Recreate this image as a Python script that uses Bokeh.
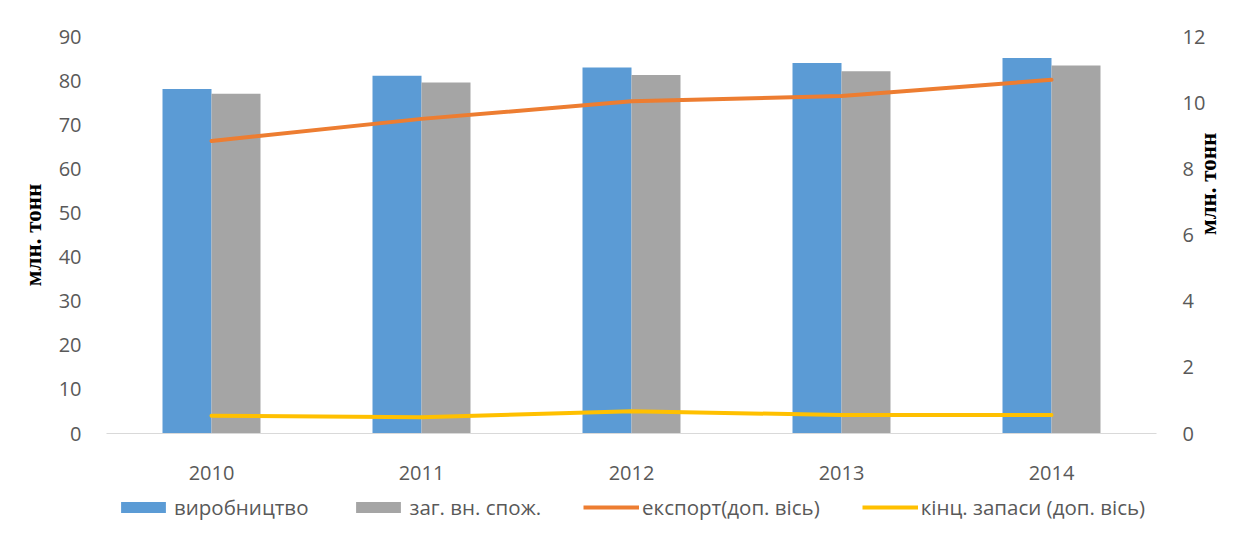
import math
from bokeh.plotting import figure
from bokeh.layouts import column
from bokeh.models import (ColumnDataSource, FactorRange, Range1d, LinearAxis, FixedTicker,
                          Legend, LegendItem)
from bokeh.transform import dodge
from bokeh.embed import file_html
from bokeh.resources import INLINE

# ---- data ----
years = ["2010", "2011", "2012", "2013", "2014"]
production = [78.1, 81.1, 83.0, 84.0, 85.1]       # виробництво (млн. тонн)
consumption = [77.0, 79.6, 81.3, 82.1, 83.4]      # заг. вн. спож. (млн. тонн)
export = [8.84, 9.51, 10.04, 10.20, 10.69]        # експорт (доп. вісь)
stocks = [0.54, 0.49, 0.67, 0.56, 0.56]           # кінц. запаси (доп. вісь)
left_ticks = [0, 10, 20, 30, 40, 50, 60, 70, 80, 90]
right_ticks = [0, 2, 4, 6, 8, 10, 12]
series_labels = ["виробництво", "заг. вн. спож.", "експорт(доп. вісь)", "кінц. запаси (доп. вісь)"]
axis_title = "млн. тонн"

BLUE = "#5B9BD5"
GRAY = "#A5A5A5"
ORANGE = "#ED7D31"
YELLOW = "#FFC000"
TXT = "#595959"
FONT = "Open Sans"

src = ColumnDataSource(dict(year=years, prod=production, cons=consumption,
                            exp=export, stk=stocks))

p = figure(x_range=FactorRange(*years), y_range=Range1d(0, 90),
           width=1236, height=490, output_backend="svg", toolbar_location=None,
           min_border_left=106, min_border_right=80, min_border_top=36, min_border_bottom=57)
p.extra_y_ranges = {"right": Range1d(0, 12)}
p.background_fill_color = "white"
p.border_fill_color = "white"
p.outline_line_color = None
p.xgrid.grid_line_color = None
p.ygrid.grid_line_color = None
p.x_range.range_padding = 0

bw = 0.2333
b1 = p.vbar(x=dodge("year", -bw / 2, range=p.x_range), top="prod", width=bw,
            source=src, fill_color=BLUE, line_color=None)
b2 = p.vbar(x=dodge("year", bw / 2, range=p.x_range), top="cons", width=bw,
            source=src, fill_color=GRAY, line_color=None)
l1 = p.line(x="year", y="exp", source=src, y_range_name="right",
            line_color=ORANGE, line_width=4, line_cap="round", line_join="round")
l2 = p.line(x="year", y="stk", source=src, y_range_name="right",
            line_color=YELLOW, line_width=4, line_cap="round", line_join="round")

# left axis
ya = p.yaxis[0]
ya.ticker = FixedTicker(ticks=left_ticks)
ya.axis_line_color = None
ya.major_tick_line_color = None
ya.minor_tick_line_color = None
ya.major_label_standoff = 19
ya.major_label_text_font = FONT
ya.major_label_text_font_size = "20px"
ya.major_label_text_color = TXT
ya.axis_label = axis_title
ya.axis_label_standoff = 10
ya.axis_label_text_font = "Liberation Serif"
ya.axis_label_text_font_style = "bold"
ya.axis_label_text_font_size = "23px"
ya.axis_label_text_color = "black"

# right axis
ra = LinearAxis(y_range_name="right", ticker=FixedTicker(ticks=right_ticks))
ra.axis_line_color = None
ra.major_tick_line_color = None
ra.minor_tick_line_color = None
ra.major_label_standoff = 20
ra.major_label_text_font = FONT
ra.major_label_text_font_size = "20px"
ra.major_label_text_color = TXT
ra.axis_label = axis_title
ra.axis_label_standoff = 0
ra.axis_label_orientation = math.pi / 2
ra.axis_label_text_font = "Liberation Serif"
ra.axis_label_text_font_style = "bold"
ra.axis_label_text_font_size = "23px"
ra.axis_label_text_color = "black"
p.add_layout(ra, "right")

# x axis
xa = p.xaxis[0]
xa.axis_line_color = "#D9D9D9"
xa.axis_line_width = 1
xa.major_tick_line_color = None
xa.minor_tick_line_color = None
xa.major_label_standoff = 26
xa.major_label_text_font = FONT
xa.major_label_text_font_size = "20px"
xa.major_label_text_color = TXT

# ---- legend strip (separate figure below the chart, frame aligned with the chart) ----
lg = figure(width=1236, height=33, output_backend="svg", toolbar_location=None,
            x_range=Range1d(0, 1), y_range=Range1d(0, 1),
            min_border_left=106, min_border_right=80, min_border_top=0, min_border_bottom=0,
            x_axis_type=None, y_axis_type=None)
lg.outline_line_color = None
lg.grid.grid_line_color = None
lg.background_fill_color = "white"
lg.border_fill_color = "white"
d1 = lg.vbar(x=[-5], top=[-5], width=0.1, fill_color=BLUE, line_color=None)
d2 = lg.vbar(x=[-5], top=[-5], width=0.1, fill_color=GRAY, line_color=None)
d3 = lg.line(x=[-5, -4], y=[-5, -5], line_color=ORANGE, line_width=4)
d4 = lg.line(x=[-5, -4], y=[-5, -5], line_color=YELLOW, line_width=4)

legend = Legend(items=[LegendItem(label=series_labels[0], renderers=[d1]),
                       LegendItem(label=series_labels[1], renderers=[d2]),
                       LegendItem(label=series_labels[2], renderers=[d3]),
                       LegendItem(label=series_labels[3], renderers=[d4])],
                orientation="horizontal", location=(9, 2),
                glyph_width=56, glyph_height=14, label_standoff=3, spacing=42,
                padding=0, margin=0, border_line_color=None, background_fill_alpha=0,
                label_text_font=FONT, label_text_font_size="20.5px", label_text_color=TXT,
                label_height=20)
lg.add_layout(legend, "center")

layout = column(p, lg, spacing=0)
open("out.html", "w").write(file_html(layout, INLINE))
